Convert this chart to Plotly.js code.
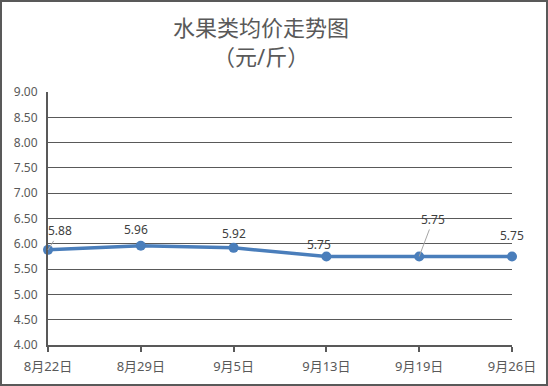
<!DOCTYPE html>
<html>
<head>
<meta charset="utf-8">
<script src="https://cdn.plot.ly/plotly-3.0.1.min.js"></script>
<style>
html,body{margin:0;padding:0;background:#fff;}
#wrap{position:relative;width:548px;height:386px;}
#chart{width:548px;height:386px;}
#frame{position:absolute;left:0;top:0;width:548px;height:386px;box-sizing:border-box;border:2px solid #595959;pointer-events:none;}
</style>
</head>
<body>
<div id="wrap"><div id="chart"></div><div id="frame"></div></div>
<script>
const categories = ["8月22日", "8月29日", "9月5日", "9月13日", "9月19日", "9月26日"];
const prices = [5.88, 5.96, 5.92, 5.75, 5.75, 5.75];
const yTickVals = [4.0, 4.5, 5.0, 5.5, 6.0, 6.5, 7.0, 7.5, 8.0, 8.5, 9.0];
const labelText = ["5.88", "5.96", "5.92", "5.75", "5.75", "5.75"];
const titleLines = ["水果类均价走势图", "（元/斤）"];

const FONT = "Noto Sans, Noto Sans CJK SC, sans-serif";
const lineColor = "#4a7ebb";

// label placements (offsets in px)
const labelPos = [
  {arrow:true, ax:12, ay:-19},
  {arrow:false, dx:-5, dy:16},
  {arrow:false, dx:0, dy:14},
  {arrow:false, dx:-7, dy:12},
  {arrow:true, ax:14, ay:-37},
  {arrow:false, dx:0, dy:21}
];

const annotations = categories.map((c, i) => {
  const p = labelPos[i];
  const base = {
    x: i, y: prices[i], xref: 'x', yref: 'y',
    text: labelText[i],
    font: {family: FONT, size: 12, color: '#404040'}
  };
  if (p.arrow) {
    return Object.assign(base, {showarrow: true, ax: p.ax, ay: p.ay, arrowhead: 0,
      arrowwidth: 1, arrowcolor: '#a6a6a6', standoff: 0, startstandoff: 0});
  }
  return Object.assign(base, {showarrow: false, xshift: p.dx, yshift: p.dy});
});

// title lines as paper annotations
const titleY = [(345 - 27) / 253, (345 - 56) / 253];
titleLines.forEach((t, i) => {
  annotations.push({
    text: t, xref: 'paper', yref: 'paper', x: (261 - 48) / 464, y: titleY[i],
    xanchor: 'center', yanchor: 'middle', showarrow: false,
    font: {family: FONT, size: 22, color: '#595959'}
  });
});

const trace = {
  x: categories.map((c, i) => i),
  y: prices,
  type: 'scatter',
  mode: 'lines+markers',
  line: {color: lineColor, width: 3.5},
  marker: {color: lineColor, size: 10},
  cliponaxis: false,
  hoverinfo: 'skip'
};

const layout = {
  width: 548, height: 386,
  margin: {l: 48, r: 36, t: 92, b: 41},
  paper_bgcolor: '#fff', plot_bgcolor: '#fff',
  showlegend: false,
  xaxis: {
    range: [0, 5],
    tickvals: categories.map((c, i) => i),
    ticktext: categories,
    showgrid: false,
    zeroline: false,
    showline: true, linecolor: '#595959', linewidth: 2,
    ticks: 'outside', ticklen: 5, tickcolor: '#595959', tickwidth: 2,
    ticklabelstandoff: 3,
    tickfont: {family: FONT, size: 13, color: '#595959'},
    fixedrange: true
  },
  yaxis: {
    range: [4, 9],
    tickvals: yTickVals,
    tickformat: '.2f',
    showgrid: true, gridcolor: '#595959', gridwidth: 1,
    zeroline: false,
    showline: true, linecolor: '#595959', linewidth: 2,
    ticks: '', ticklen: 0,
    ticklabelstandoff: 6,
    tickfont: {family: FONT, size: 12, color: '#595959'},
    fixedrange: true
  },
  annotations: annotations
};

Plotly.newPlot('chart', [trace], layout, {displayModeBar: false, staticPlot: true});
</script>
</body>
</html>
